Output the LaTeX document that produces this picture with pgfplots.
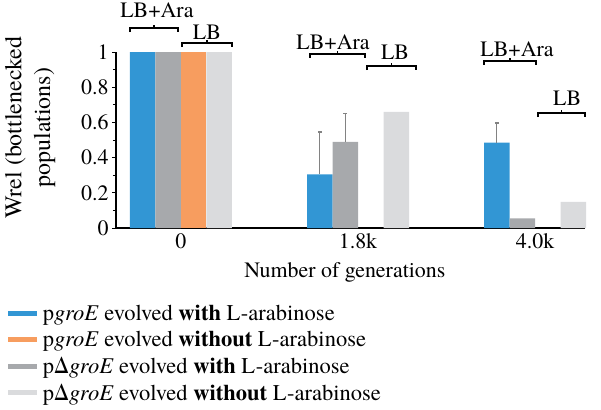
\documentclass[border=0pt]{standalone}
\usepackage{pgfplots}
\pgfplotsset{compat=1.18}
\usepackage{fontspec}
\setmainfont{texgyretermes}[Extension=.otf, UprightFont=*-regular, BoldFont=*-bold, ItalicFont=*-italic, BoldItalicFont=*-bolditalic]
\definecolor{cblue}{RGB}{50,150,212}
\definecolor{corange}{RGB}{247,157,95}
\definecolor{cgray}{RGB}{167,169,172}
\definecolor{clight}{RGB}{218,219,221}
\definecolor{cerr}{RGB}{130,130,130}
\newcommand{\brk}[7]{%
  \draw[line width=1.4bp] ([yshift=-4bp]axis cs:#1,#3) -- (axis cs:#1,#3) -- (axis cs:#2,#3) -- ([yshift=-4bp]axis cs:#2,#3);
  \draw[line width=1.4bp] (axis cs:#4,#3) -- ([yshift=3bp]axis cs:#4,#3);
  \node[inner sep=0pt] at (axis cs:#5,#6) {#7};
}
\pgfplotstableread{
x y
0 1.0
1 0.305
2 0.485
}\blue
\pgfplotstableread{
x y
0 1.0
1 0.49
2 0.055
}\gray
\pgfplotstableread{
x y
0 1.0
}\orange
\pgfplotstableread{
x y
0 1.0
1 0.66
2 0.148
}\light
\pgfplotstableread{
x y e
0.784 0.305 0.24
0.928 0.49 0.16
1.784 0.485 0.112
}\errs
\begin{document}
\begin{tikzpicture}[font=\rmfamily\fontsize{22}{26}\selectfont]
\begin{axis}[
  width=469bp, height=176bp, scale only axis,
  xmin=-0.367, xmax=2.282, ymin=0, ymax=1,
  axis x line=bottom, axis y line=left,
  axis line style={-, line width=1.6bp, black},
  xtick={0,1,2}, xticklabels={0,1.8k,4.0k},
  x tick style={draw=none},
  ytick={0,0.2,0.4,0.6,0.8,1}, yticklabels={0,0.2,0.4,0.6,0.8,1},
  minor y tick num=1,
  y tick style={black, line width=1bp},
  tick align=outside, major tick length=4bp, minor tick length=3bp,
  /pgf/number format/assume math mode=true,
  xticklabel style={yshift=2bp},
  clip=false,
  xlabel={Number of generations},
  xlabel style={at={(axis description cs:0.488,-0.25)}, anchor=center},
  ylabel={Wrel (bottlenecked\\populations)},
  ylabel style={at={(axis description cs:-0.183,0.57)}, anchor=center, align=center,
    font=\rmfamily\fontsize{24}{29}\selectfont},
  legend style={at={(axis description cs:-0.235,-0.42)}, anchor=north west, draw=none, fill=none,
    inner sep=0pt, row sep=3bp, legend cell align=left,
    nodes={inner sep=3bp}, font=\rmfamily\fontsize{22.6}{26}\selectfont},
]
\addplot[ybar, bar width=0.144, forget plot, fill=cblue, draw=none, bar shift=-0.216] table[x=x, y=y] {\blue};
\addplot[ybar, bar width=0.144, forget plot, fill=cgray, draw=none, bar shift=-0.072] table[x=x, y=y] {\gray};
\addplot[ybar, bar width=0.144, forget plot, fill=corange, draw=none, bar shift=0.072] table[x=x, y=y] {\orange};
\addplot[ybar, bar width=0.144, forget plot, fill=clight, draw=none, bar shift=0.216] table[x=x, y=y] {\light};
\addplot[forget plot, draw=none, mark=none,
  error bars/.cd, y dir=plus, y explicit,
  error bar style={cerr, line width=1.3bp},
  error mark options={cerr, line width=1.3bp, mark size=2bp, rotate=90}]
  table[x=x, y=y, y error=e] {\errs};
\addlegendimage{legend image code/.code={\draw[line width=5bp, cblue] (0bp,0bp) -- (29bp,0bp);}}
\addlegendentry{p\textit{groE} evolved \textbf{with} L-arabinose}
\addlegendimage{legend image code/.code={\draw[line width=5bp, corange] (0bp,0bp) -- (29bp,0bp);}}
\addlegendentry{p\textit{groE} evolved \textbf{without} L-arabinose}
\addlegendimage{legend image code/.code={\draw[line width=5bp, cgray] (0bp,0bp) -- (29bp,0bp);}}
\addlegendentry{pΔ\textit{groE} evolved \textbf{with} L-arabinose}
\addlegendimage{legend image code/.code={\draw[line width=5bp, clight] (0bp,0bp) -- (29bp,0bp);}}
\addlegendentry{pΔ\textit{groE} evolved \textbf{without} L-arabinose}
\brk{-0.288}{-0.017}{1.136}{-0.153}{-0.136}{1.239}{LB+Ara}
\brk{0.006}{0.288}{1.051}{0.147}{0.147}{1.114}{LB}
\brk{0.729}{1.040}{0.989}{0.885}{0.859}{1.057}{LB+Ara}
\brk{1.051}{1.328}{0.920}{1.19}{1.209}{1.0}{LB}
\brk{1.712}{2.006}{0.949}{1.859}{1.898}{1.017}{LB+Ara}
\brk{2.017}{2.282}{0.653}{2.15}{2.181}{0.739}{LB}
\path (rel axis cs:-0.2473,1.2955) rectangle (rel axis cs:1.0341,-1.0284);
\end{axis}
\end{tikzpicture}
\end{document}
